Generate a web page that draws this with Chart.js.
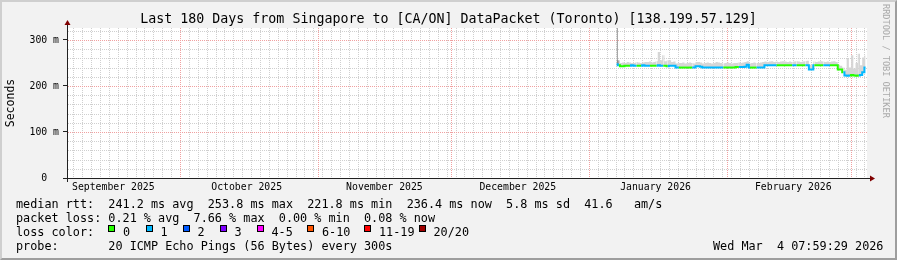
<!DOCTYPE html>
<html>
<head>
<meta charset="utf-8">
<script src="https://cdn.jsdelivr.net/npm/chart.js@4/dist/chart.umd.min.js"></script>
<style>
  body { margin: 0; background: #f2f2f2; }
  #wrap { position: relative; width: 897px; height: 260px; background: #f2f2f2; overflow: hidden;
          font-family: 'DejaVu Sans Mono', monospace; color: #000; }
  #c { position: absolute; left: 0; top: 0; }
  #title { position: absolute; left: 0; width: 897px; top: 10px; text-align: center; font-size: 13.3px;
           line-height: 18px; white-space: pre; }
  .line { position: absolute; left: 16px; font-size: 11.8px; line-height: 14px; white-space: pre; }
  .sw { position: absolute; top: 224.5px; width: 5px; height: 5px; border: 1px solid #000; }
  .swl { position: absolute; top: 224.6px; font-size: 11.8px; line-height: 14px; white-space: pre; }
  #stamp { position: absolute; left: 713px; top: 238.6px; font-size: 11.8px; line-height: 14px; white-space: pre; }
  #rrd { position: absolute; left: 881px; top: 4px; writing-mode: vertical-rl; font-size: 8.6px;
         color: #aaaaaa; white-space: pre; line-height: 10px; }
  #frame { position: absolute; left: 0; top: 0; width: 897px; height: 260px; box-sizing: border-box;
           border-top: 2px solid #cfcfcf; border-left: 2px solid #cfcfcf;
           border-right: 2px solid #9e9e9e; border-bottom: 2px solid #9e9e9e; pointer-events: none; }
</style>
</head>
<body>
<div id="wrap">
  <canvas id="c" width="897" height="260"></canvas>
  <div id="title">Last 180 Days from Singapore to [CA/ON] DataPacket (Toronto) [138.199.57.129]</div>
  <div class="line" id="rttLine" style="top:196.6px"></div>
  <div class="line" id="lossLine" style="top:210.6px"></div>
  <div class="line" style="top:224.6px">loss color:</div>
  <div id="legend"></div>
  <div class="line" id="probeLine" style="top:238.6px"></div>
  <div id="stamp">Wed Mar  4 07:59:29 2026</div>
  <div id="rrd">RRDTOOL / TOBI OETIKER</div>
  <div id="frame"></div>
</div>
<script>
// time axis in days since 1 Sep 2025 (local), window of 180 days
const xStart = 4.58;
const xEnd = 184.58;
const yMax = 326;

// month boundaries (red grid) and month label positions (16th of month)
const monthStarts = [30, 61, 91, 122, 153, 181];
const monthMids = [15, 45, 76, 106, 137, 168];
const monthLabels = ['September 2025', 'October 2025', 'November 2025', 'December 2025', 'January 2026', 'February 2026'];
const yMajorTicks = [0, 100, 200, 300];

// samples: every half day starting at day 128.25 (6 Jan 2026)
const sampleStart = 128.25;
const sampleStep = 0.5;

// median rtt (ms)
const medianMs = [
  247, 245, 243, 243,
  244, 244, 244, 245, 244, 244, 244, 244, 245, 244, 244, 244, 244, 244, 244, 245, 244, 244, 244, 243, 244, 244, 244,
  240, 240, 240, 240, 240, 240, 240, 240, 240,
  243, 243, 242,
  240, 240, 240, 240, 240, 240, 240, 240, 240, 240, 240, 240, 240, 240, 240,
  241, 241, 241, 241, 242,
  246,
  240, 240, 240, 240, 240, 240, 240,
  245, 245, 245, 245, 245, 245, 245, 245, 245, 245, 245, 245, 245, 245, 245, 245, 245, 245, 245, 245,
  236, 236,
  245, 245, 245, 245, 245, 245, 245, 245, 245, 245, 245,
  236, 236,
  230,
  223, 222, 223, 224, 223, 222, 223, 224,
  230,
  240
];

// top of the smoke (ms)
const smokeTopMs = [
  330, 256,
  250, 251, 250, 252, 251, 250, 250, 252, 251, 250, 251, 252, 252, 253, 251, 252, 254, 274, 256, 267, 254, 256, 256, 252, 253,
  249, 250, 250, 251, 249, 250, 251, 250, 249,
  252, 252, 251,
  249, 250, 251, 250, 249, 250, 252, 251, 250, 249, 250, 251, 250, 249, 250,
  250, 251, 250, 251, 252,
  254,
  249, 250, 251, 250, 250, 251, 252,
  253, 252, 253, 254, 252, 253, 252, 253, 254, 253, 252, 253, 252, 253, 254, 253, 252, 253, 254, 255,
  246, 245,
  253, 252, 253, 254, 253, 252, 253, 252, 253, 254, 252,
  246, 244,
  240,
  235, 259, 240, 267, 238, 250, 270, 245,
  262,
  266
];

// lost pings out of 20 per sample
const lostPings = [
  1, 0, 0, 0, 0, 0, 1, 1, 1, 0, 0, 1, 1, 1, 1, 0, 0, 0, 1, 1, 1, 0, 0, 1, 1, 1, 1, 1,
  0, 0, 0, 0, 0, 0, 1, 1, 1, 1, 1, 1, 1, 1, 1, 1, 1, 1, 1, 1,
  0, 0, 0, 0, 0, 0, 0, 1, 1, 1, 1, 1, 0, 0, 0,
  1, 1, 1, 1, 1, 1, 1, 1, 1, 0, 0, 0, 0, 0, 0, 0, 1, 1, 0, 0, 0, 0,
  1, 1, 1, 1, 0, 0, 0, 0, 1, 1, 1, 0, 0, 0, 0, 0, 0,
  1, 1, 1, 0, 0, 0, 0, 1, 1, 1, 1
];

const lossLabels = ['0', '1', '2', '3', '4-5', '6-10', '11-19', '20/20'];
const lossColors = ['#26ff00', '#00b8ff', '#0059ff', '#7e00ff', '#ff00ff', '#ff5500', '#ff0000', '#a00000'];

const rttStats = ['241.2', '253.8', '221.8', '236.4', '5.8', '41.6'];
const lossStats = ['0.21', '7.66', '0.00', '0.08'];

// legend layout (x of each swatch)
const legendX = [108, 145.5, 182.5, 219.5, 256.5, 307, 364, 418.5];

function lossBucket(n) {
  if (n <= 3) return n;
  if (n <= 5) return 4;
  if (n <= 10) return 5;
  if (n <= 19) return 6;
  return 7;
}

const days = medianMs.map((_, i) => sampleStart + i * sampleStep);
const medianPts = medianMs.map((v, i) => ({ x: days[i], y: v }));
const smokePts = smokeTopMs.map((v, i) => ({ x: days[i], y: v }));

const yMinorTicks = [];
for (let v = 20; v < yMax; v += 20) if (v % 100) yMinorTicks.push(v);
const xMinorTicks = [];
for (let d = 6; d < xEnd; d += 2) if (!monthStarts.includes(d)) xMinorTicks.push(d);

// text below the graph
document.getElementById('rttLine').textContent =
  'median rtt:  ' + rttStats[0] + ' ms avg  ' + rttStats[1] + ' ms max  ' + rttStats[2] + ' ms min  ' +
  rttStats[3] + ' ms now  ' + rttStats[4] + ' ms sd  ' + rttStats[5] + '   am/s';
document.getElementById('lossLine').textContent =
  'packet loss: ' + lossStats[0] + ' % avg  ' + lossStats[1] + ' % max  ' + lossStats[2] + ' % min  ' + lossStats[3] + ' % now';
document.getElementById('probeLine').textContent = 'probe:       20 ICMP Echo Pings (56 Bytes) every 300s';

const legend = document.getElementById('legend');
lossLabels.forEach((lab, i) => {
  const sw = document.createElement('div');
  sw.className = 'sw';
  sw.style.left = legendX[i] + 'px';
  sw.style.background = lossColors[i];
  legend.appendChild(sw);
  const t = document.createElement('div');
  t.className = 'swl';
  t.style.left = (legendX[i] + 15) + 'px';
  t.textContent = lab;
  legend.appendChild(t);
});

const minorGrid = '#cfcfcf';
const majorGrid = '#f0a0a0';

// rrdtool look: white canvas, dotted grid from the scales' ticks, axis lines with arrows
const rrdFrame = {
  id: 'rrdFrame',
  beforeDraw(chart) {
    const { ctx, chartArea: a } = chart;
    ctx.save();
    ctx.fillStyle = '#ffffff';
    ctx.fillRect(a.left, a.top, a.right - a.left, a.bottom - a.top);
    ctx.restore();
  },
  beforeDatasetsDraw(chart) {
    const { ctx, chartArea: a, scales } = chart;
    const top = Math.round(a.top), bottom = Math.round(a.bottom);
    const left = Math.round(a.left), right = Math.round(a.right);
    const vLines = (scale, color) => {
      ctx.fillStyle = color;
      scale.ticks.forEach(t => {
        const x = Math.round(scale.getPixelForValue(t.value));
        if (x <= left || x >= right) return;
        for (let y = top; y < bottom; y += 2) ctx.fillRect(x, y, 1, 1);
      });
    };
    const hLines = (scale, color) => {
      ctx.fillStyle = color;
      scale.ticks.forEach(t => {
        const y = Math.round(scale.getPixelForValue(t.value));
        if (y <= top || y >= bottom) return;
        for (let x = left + 1; x < right; x += 2) ctx.fillRect(x, y, 1, 1);
      });
    };
    ctx.save();
    vLines(scales.xMinor, minorGrid);
    hLines(scales.yMinor, minorGrid);
    vLines(scales.xMajor, majorGrid);
    hLines(scales.y, majorGrid);
    ctx.restore();
  },
  afterDraw(chart) {
    const { ctx, chartArea: a } = chart;
    const y0 = Math.round(a.bottom) + 0.5;
    const x0 = Math.round(a.left) + 0.5;
    ctx.save();
    ctx.strokeStyle = '#212121';
    ctx.lineWidth = 1;
    ctx.beginPath();
    ctx.moveTo(a.left - 4, y0);
    ctx.lineTo(a.right + 4, y0);
    ctx.moveTo(x0, a.bottom + 4);
    ctx.lineTo(x0, a.top - 4);
    ctx.stroke();
    ctx.fillStyle = '#800000';
    ctx.beginPath();
    ctx.moveTo(a.right + 3, y0 - 3);
    ctx.lineTo(a.right + 8, y0);
    ctx.lineTo(a.right + 3, y0 + 3);
    ctx.closePath();
    ctx.fill();
    ctx.beginPath();
    ctx.moveTo(x0 - 3, a.top - 3);
    ctx.lineTo(x0, a.top - 8);
    ctx.lineTo(x0 + 3, a.top - 3);
    ctx.closePath();
    ctx.fill();
    ctx.restore();
  }
};

Chart.defaults.font.family = "'DejaVu Sans Mono', monospace";
Chart.defaults.color = '#000';

new Chart(document.getElementById('c'), {
  type: 'line',
  data: {
    datasets: [
      {
        label: 'median',
        data: medianPts,
        stepped: 'middle',
        borderWidth: 2,
        pointRadius: 0,
        fill: false,
        borderColor: lossColors[0],
        segment: {
          borderColor: c => lossColors[lossBucket(lostPings[c.p0DataIndex])]
        }
      },
      {
        label: 'smoke',
        data: smokePts,
        stepped: 'middle',
        borderWidth: 0,
        pointRadius: 0,
        backgroundColor: '#d6d6d6',
        fill: '-1',
        segment: {
          backgroundColor: c => c.p0DataIndex === 0 ? '#8a8a8a' : '#d6d6d6'
        }
      }
    ]
  },
  options: {
    responsive: false,
    animation: false,
    events: [],
    layout: { padding: { left: 0, right: 30, top: 28, bottom: 62 } },
    plugins: {
      legend: { display: false },
      tooltip: { enabled: false },
      title: { display: false }
    },
    scales: {
      xMinor: {
        type: 'linear', position: 'bottom', min: xStart, max: xEnd,
        afterBuildTicks: a => { a.ticks = xMinorTicks.map(v => ({ value: v })); },
        afterFit: a => { a.height = 0; },
        ticks: { display: false },
        grid: { display: false, drawTicks: false },
        border: { display: false }
      },
      yMinor: {
        type: 'linear', position: 'left', min: 0, max: yMax,
        afterBuildTicks: a => { a.ticks = yMinorTicks.map(v => ({ value: v })); },
        afterFit: a => { a.width = 0; },
        ticks: { display: false },
        grid: { display: false, drawTicks: false },
        border: { display: false }
      },
      xMajor: {
        type: 'linear', position: 'bottom', min: xStart, max: xEnd,
        afterBuildTicks: a => { a.ticks = monthStarts.map(v => ({ value: v })); },
        afterFit: a => { a.height = 0; },
        ticks: { display: false },
        grid: { display: false, drawTicks: false },
        border: { display: false }
      },
      x: {
        type: 'linear', position: 'bottom', min: xStart, max: xEnd,
        afterBuildTicks: a => { a.ticks = monthMids.map(v => ({ value: v })); },
        afterFit: a => { a.height = 20; },
        ticks: {
          callback: (v, i) => monthLabels[i],
          autoSkip: false, maxRotation: 0, minRotation: 0,
          padding: 3.5, font: { size: 9.8 }, color: '#000'
        },
        grid: { display: false, drawTicks: false },
        border: { display: false }
      },
      y: {
        type: 'linear', position: 'left', min: 0, max: yMax,
        afterBuildTicks: a => { a.ticks = yMajorTicks.map(v => ({ value: v })); },
        afterFit: a => { a.width = 67; },
        ticks: {
          callback: v => v === 0 ? '0' : v + ' m',
          crossAlign: 'center', padding: 4, font: { size: 9.8 }, color: '#000'
        },
        grid: { drawOnChartArea: false, drawTicks: true, tickLength: 4, tickColor: '#212121', tickWidth: 1 },
        border: { display: false },
        title: { display: true, text: 'Seconds', font: { size: 11.5 }, color: '#000', padding: { top: 4, bottom: 0 } }
      }
    }
  },
  plugins: [rrdFrame]
});
</script>
</body>
</html>
